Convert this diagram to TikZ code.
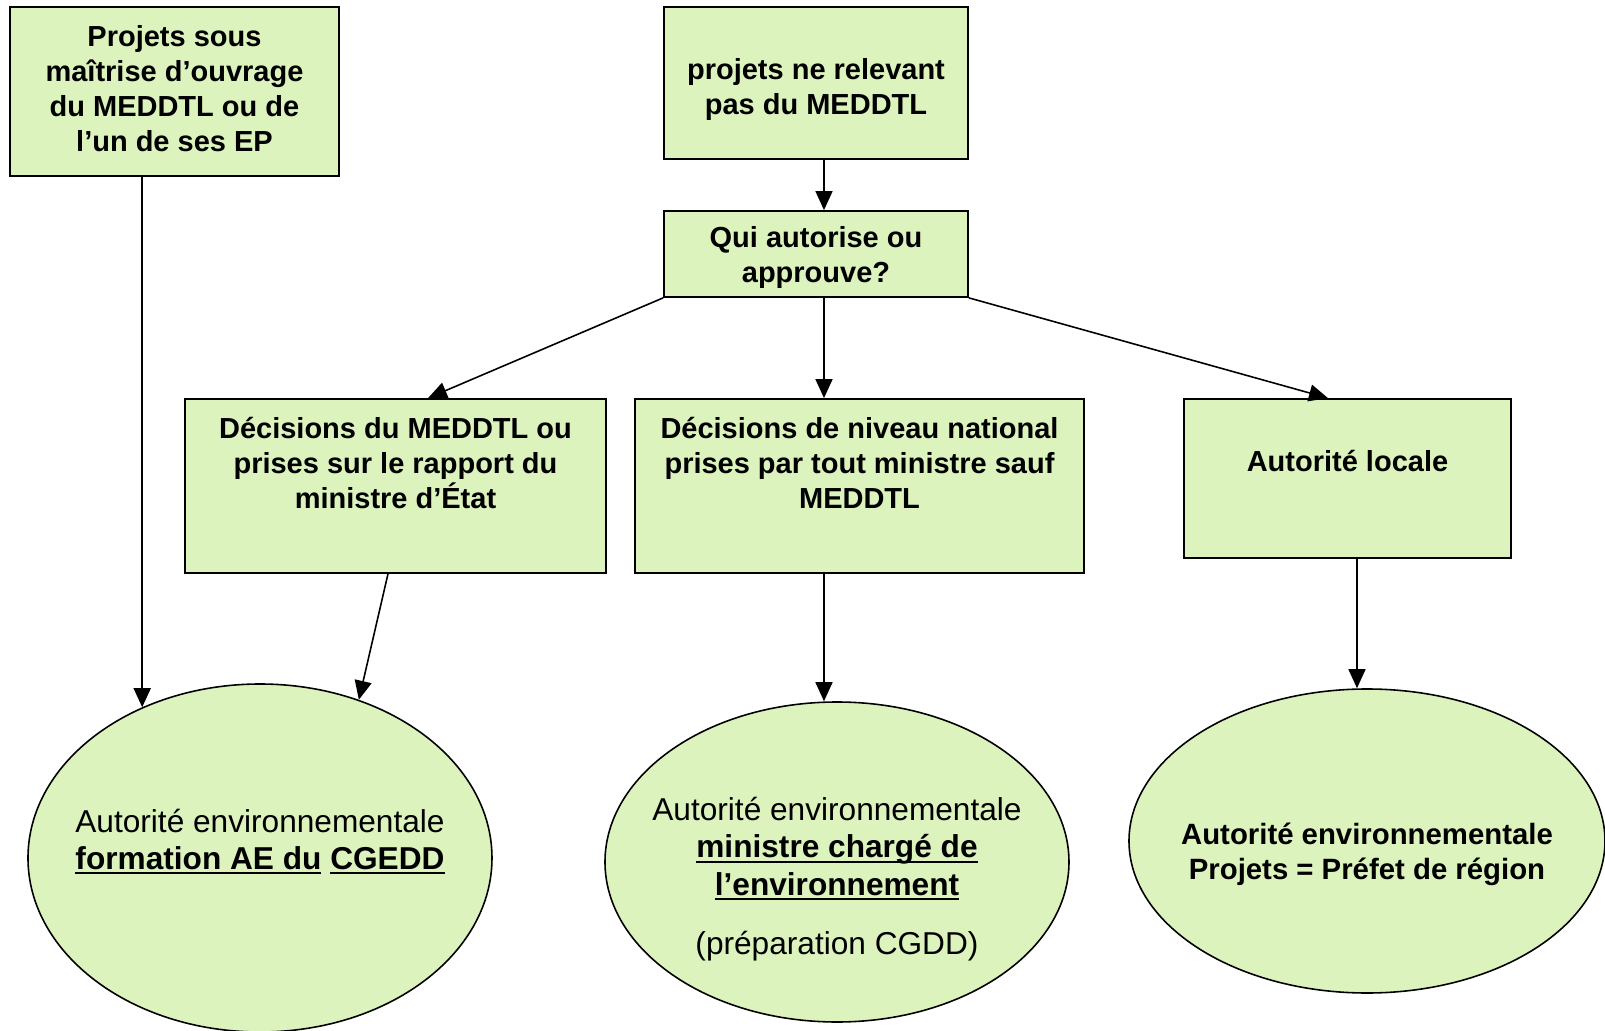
\documentclass[tikz,border=0pt]{standalone}
\usepackage{fontspec}
\setmainfont{Liberation Sans}
\usetikzlibrary{shapes.geometric, arrows.meta}
\definecolor{vert}{HTML}{DCF3BE}
\newcommand{\souligne}[1]{\setbox0\hbox{#1}\rlap{\rule[-2.6pt]{\wd0}{1.1pt}}\box0\relax}
\tikzstyle{boite} = [rectangle, draw=black, line width=1pt, fill=vert, align=center, font=\bfseries\fontsize{16.5}{19.9}\selectfont]
\tikzstyle{bulle} = [ellipse, draw=black, line width=0.9pt, fill=vert, align=center, inner xsep=-2cm, inner ysep=0pt, font=\fontsize{18}{21.3}\selectfont]
\tikzstyle{arrow} = [line width=0.9pt, -{Triangle[length=0.38cm,width=0.34cm]}]
\begin{document}
\begin{tikzpicture}[node distance=2cm]
\useasboundingbox (-16.32,1.66) rectangle (15.78,-18.96);
\node (b2) [boite, minimum width=6.08cm, minimum height=3.04cm] {\mbox{}\\projets ne relevant\\pas du MEDDTL};
\node (qui) [boite, below of=b2, yshift=-1.42cm, minimum width=6.08cm, minimum height=1.72cm] {\mbox{}\\[-0.12cm]Qui autorise ou\\approuve?};
\node (b1) [boite, left of=b2, xshift=-10.83cm, yshift=-0.17cm, minimum width=6.58cm, minimum height=3.38cm] {Projets sous\\maîtrise d’ouvrage\\du MEDDTL ou de\\l’un de ses EP\\[-0.58cm]\mbox{}};
\node (dec2) [boite, below of=qui, xshift=0.87cm, yshift=-2.64cm, minimum width=8.98cm, minimum height=3.48cm] {Décisions de niveau national\\prises par tout ministre sauf\\MEDDTL\\[0.23cm]\mbox{}};
\node (dec1) [boite, left of=dec2, xshift=-7.28cm, minimum width=8.42cm, minimum height=3.48cm] {Décisions du MEDDTL ou\\prises sur le rapport du\\ministre d’État\\[0.23cm]\mbox{}};
\node (loc) [boite, right of=dec2, xshift=7.76cm, yshift=0.15cm, minimum width=6.54cm, minimum height=3.18cm] {Autorité locale\\\mbox{}};
\node (e1) [bulle, below of=dec1, xshift=-2.71cm, yshift=-5.44cm, minimum width=9.28cm, minimum height=6.96cm] {Autorité environnementale\\\textbf{\souligne{formation AE du} \souligne{CGEDD}}\\\mbox{}};
\node (e2) [bulle, below of=dec2, xshift=-0.45cm, yshift=-5.52cm, minimum width=9.28cm, minimum height=6.40cm] {\mbox{}\\[0.4cm]Autorité environnementale\\\textbf{\souligne{ministre chargé de}}\\\textbf{\souligne{l’environnement}}\\[0.43cm](préparation CGDD)};
\node (e3) [bulle, below of=loc, xshift=0.39cm, yshift=-5.25cm, minimum width=9.52cm, minimum height=6.08cm, font=\bfseries\fontsize{16.7}{19.9}\selectfont] {\mbox{}\\[0.27cm]Autorité environnementale\\Projets = Préfet de région};
\draw [arrow] (b1.south -| e1.128) -- (e1.128);
\draw [arrow] ([xshift=0.16cm]b2.south) -- ([xshift=0.16cm]qui.north);
\draw [arrow] (qui.south west) -- ([xshift=0.65cm]dec1.north);
\draw [arrow] ([xshift=0.16cm]qui.south) -- ([xshift=0.16cm]qui.south |- dec2.north);
\draw [arrow] (qui.south east) -- ([xshift=-0.39cm]loc.north);
\draw [arrow] ([xshift=-0.15cm]dec1.south) -- (e1.58);
\draw [arrow] ([xshift=0.16cm]qui.south |- dec2.south) -- ([xshift=0.16cm]qui.south |- e2.north);
\draw [arrow] ([xshift=0.19cm]loc.south) -- ([xshift=0.19cm]loc.south |- e3.north);
\end{tikzpicture}
\end{document}
